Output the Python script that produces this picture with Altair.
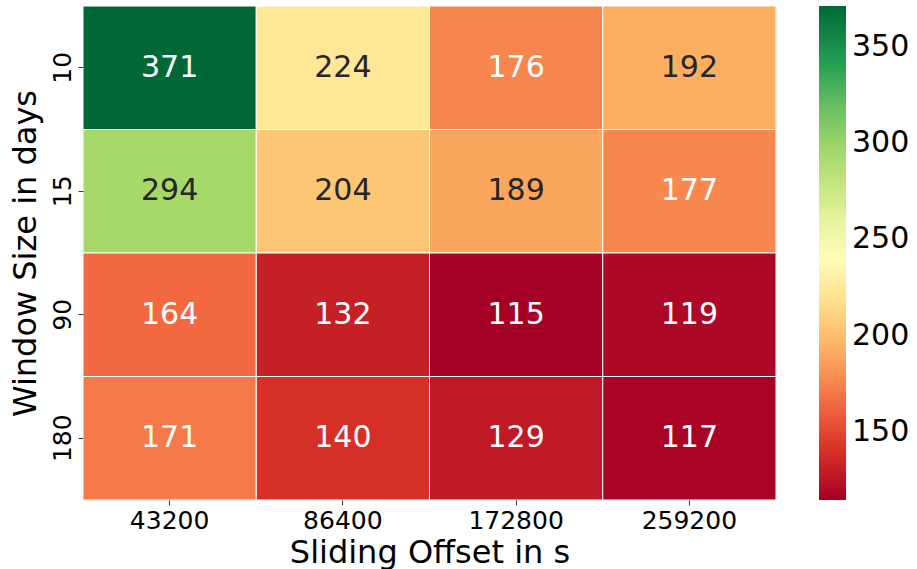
import altair as alt
import pandas as pd

offsets = ["43200", "86400", "172800", "259200"]
windows = ["10", "15", "90", "180"]
values = [
    [371, 224, 176, 192],
    [294, 204, 189, 177],
    [164, 132, 115, 119],
    [171, 140, 129, 117],
]
legend_ticks = [150, 200, 250, 300, 350]

rows = []
for i, w in enumerate(windows):
    for j, o in enumerate(offsets):
        rows.append({"window": w, "offset": o, "v": values[i][j]})
df = pd.DataFrame(rows)

FONT = "DejaVu Sans"
RDYLGN = ["#a50026", "#d73027", "#f46d43", "#fdae61", "#fee08b", "#ffffbf",
          "#d9ef8b", "#a6d96a", "#66bd63", "#1a9850", "#006837"]

x_enc = alt.X("offset:N", sort=offsets,
              scale=alt.Scale(paddingInner=0, paddingOuter=0),
              axis=alt.Axis(title="Sliding Offset in s", labelAngle=0,
                            labelFontSize=25, titleFontSize=32,
                            labelPadding=3, titlePadding=4, tickSize=5,
                            domain=False, labelColor="black", titleColor="black",
                            titleFontWeight="normal", tickColor="#333333"))
y_enc = alt.Y("window:N", sort=windows,
              scale=alt.Scale(paddingInner=0, paddingOuter=0),
              axis=alt.Axis(title="Window Size in days", labelAngle=270,
                            labelAlign="center", labelBaseline="bottom",
                            labelFontSize=25, titleFontSize=32,
                            labelPadding=3, titlePadding=8, tickSize=5,
                            domain=False, labelColor="black", titleColor="black",
                            titleFontWeight="normal", tickColor="#333333"))

rect = alt.Chart(df).mark_rect(stroke="white", strokeWidth=1).encode(
    x=x_enc,
    y=y_enc,
    color=alt.Color("v:Q",
                    scale=alt.Scale(range=RDYLGN, interpolate="rgb",
                                    domain=[115, 371]),
                    legend=alt.Legend(title=None, values=legend_ticks,
                                      gradientLength=494, gradientThickness=27,
                                      labelFontSize=30, labelColor="black",
                                      offset=43, padding=0, labelOffset=6,
                                      gradientStrokeWidth=0, direction="vertical")),
)

text = alt.Chart(df).mark_text(fontSize=30, font=FONT).encode(
    x=alt.X("offset:N", sort=offsets),
    y=alt.Y("window:N", sort=windows),
    text=alt.Text("v:Q"),
    color=alt.condition("datum.v > 180 && datum.v < 300",
                        alt.value("#262626"), alt.value("white")),
)

chart = (rect + text).properties(
    width=693, height=494,
    autosize=alt.AutoSizeParams(type="none"),
    padding={"left": 83, "top": 6, "right": 141, "bottom": 69},
).configure_view(stroke=None).configure(font=FONT)

chart.save("out.html", embed_options={"renderer": "svg", "actions": False})
